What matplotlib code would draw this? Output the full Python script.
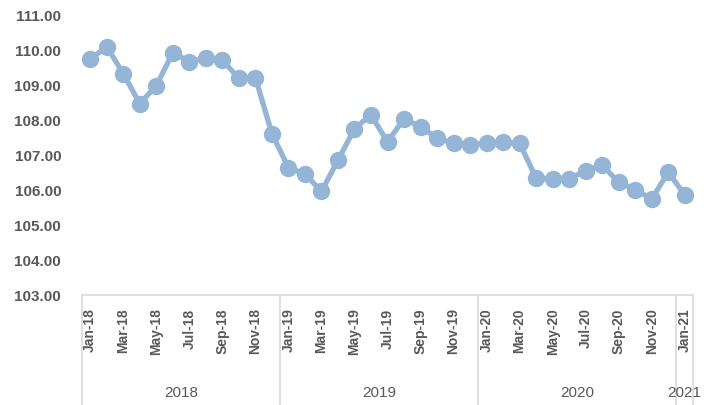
import matplotlib.pyplot as plt
from matplotlib.transforms import blended_transform_factory

# Donnees
mois = ["Jan-18", "Feb-18", "Mar-18", "Apr-18", "May-18", "Jun-18",
        "Jul-18", "Aug-18", "Sep-18", "Oct-18", "Nov-18", "Dec-18",
        "Jan-19", "Feb-19", "Mar-19", "Apr-19", "May-19", "Jun-19",
        "Jul-19", "Aug-19", "Sep-19", "Oct-19", "Nov-19", "Dec-19",
        "Jan-20", "Feb-20", "Mar-20", "Apr-20", "May-20", "Jun-20",
        "Jul-20", "Aug-20", "Sep-20", "Oct-20", "Nov-20", "Dec-20",
        "Jan-21"]
valeurs = [109.73, 110.10, 109.32, 108.47, 108.98, 109.92,
           109.67, 109.76, 109.71, 109.19, 109.21, 107.61,
           106.64, 106.46, 105.96, 106.85, 107.75, 108.15,
           107.37, 108.04, 107.80, 107.49, 107.33, 107.30,
           107.34, 107.36, 107.34, 106.34, 106.32, 106.32,
           106.55, 106.71, 106.22, 106.01, 105.74, 106.51,
           105.86]
annees = ["2018", "2019", "2020", "2021"]
mois_par_annee = [12, 12, 12, 1]

couleur = "#94B5D6"
gris_texte = "#595959"
gris_ligne = "#D9D9D9"

fig = plt.figure(figsize=(7.14, 4.06), dpi=100)
ax = fig.add_axes([82 / 714, 1 - 296 / 406, (693 - 82) / 714, 280 / 406])

x = list(range(len(mois)))
ax.plot(x, valeurs, color=couleur, linewidth=3.8, marker="o",
        markersize=11.5, solid_joinstyle="round")

ax.set_xlim(-0.5, len(mois) - 0.5)
ax.set_ylim(103, 111)
ax.set_yticks(range(103, 112))
ax.set_yticklabels([f"{v:.2f}" for v in range(103, 112)],
                   family="Liberation Sans", fontsize=11,
                   fontweight="bold", color=gris_texte)

# un mois sur deux
ax.set_xticks(x[::2])
ax.set_xticklabels(mois[::2], rotation=90, family="Liberation Sans",
                   fontsize=10, fontweight="bold", color=gris_texte)
ax.tick_params(axis="both", length=0)
ax.tick_params(axis="x", pad=9)
ax.tick_params(axis="y", pad=15)

for cote in ["top", "right", "left"]:
    ax.spines[cote].set_visible(False)
ax.spines["bottom"].set_color(gris_ligne)
ax.spines["bottom"].set_linewidth(1.2)

# separateurs et etiquettes des annees
trans = blended_transform_factory(ax.transData, ax.transAxes)
debut = -0.5
bords = [debut]
for a, n in zip(annees, mois_par_annee):
    fin = debut + n
    ax.text((debut + fin) / 2, -0.345, a, transform=trans, ha="center",
            va="center", family="Liberation Sans", fontsize=11,
            color=gris_texte)
    bords.append(fin)
    debut = fin

for b in bords:
    ax.plot([b, b], [0, -0.4], transform=trans, color=gris_ligne,
            linewidth=1.2, clip_on=False)

fig.savefig("out.png", dpi=100)
